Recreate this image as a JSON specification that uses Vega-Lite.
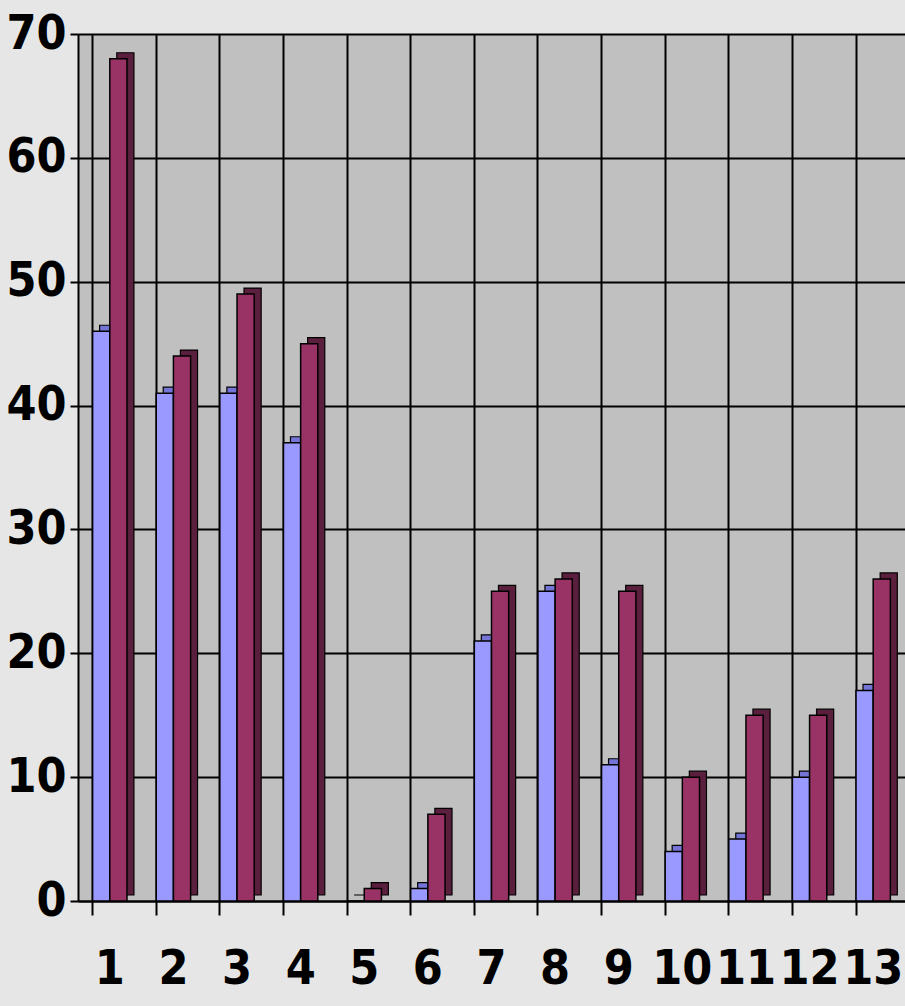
{
  "$schema": "https://vega.github.io/schema/vega-lite/v6.json",
  "width": 827,
  "height": 867,
  "autosize": {"type": "none"},
  "padding": {"left": 78, "top": 34, "right": 0, "bottom": 105},
  "background": "#e6e6e6",
  "config": {
    "view": {"fill": "#c0c0c0", "stroke": null},
    "font": "DejaVu Sans Condensed"
  },
  "data": {
    "values": [
      {"cat": "1", "series": "Série 1", "value": 46}, {"cat": "1", "series": "Série 2", "value": 68},
      {"cat": "2", "series": "Série 1", "value": 41}, {"cat": "2", "series": "Série 2", "value": 44},
      {"cat": "3", "series": "Série 1", "value": 41}, {"cat": "3", "series": "Série 2", "value": 49},
      {"cat": "4", "series": "Série 1", "value": 37}, {"cat": "4", "series": "Série 2", "value": 45},
      {"cat": "5", "series": "Série 1", "value": 0}, {"cat": "5", "series": "Série 2", "value": 1},
      {"cat": "6", "series": "Série 1", "value": 1}, {"cat": "6", "series": "Série 2", "value": 7},
      {"cat": "7", "series": "Série 1", "value": 21}, {"cat": "7", "series": "Série 2", "value": 25},
      {"cat": "8", "series": "Série 1", "value": 25}, {"cat": "8", "series": "Série 2", "value": 26},
      {"cat": "9", "series": "Série 1", "value": 11}, {"cat": "9", "series": "Série 2", "value": 25},
      {"cat": "10", "series": "Série 1", "value": 4}, {"cat": "10", "series": "Série 2", "value": 10},
      {"cat": "11", "series": "Série 1", "value": 5}, {"cat": "11", "series": "Série 2", "value": 15},
      {"cat": "12", "series": "Série 1", "value": 10}, {"cat": "12", "series": "Série 2", "value": 15},
      {"cat": "13", "series": "Série 1", "value": 17}, {"cat": "13", "series": "Série 2", "value": 26}
    ]
  },
  "encoding": {
    "x": {
      "field": "cat", "type": "ordinal", "sort": null,
      "scale": {"paddingInner": 0.46, "paddingOuter": 0.23},
      "axis": {
        "title": null, "labelAngle": 0, "labelFontSize": 48, "labelFontWeight": "bold",
        "labelColor": "black", "labelPadding": 30, "tickSize": 14, "tickColor": "black",
        "tickWidth": 2, "bandPosition": 0, "grid": true, "gridColor": "black", "gridWidth": 2,
        "gridOpacity": 1, "domainColor": "black", "domainWidth": 2
      }
    },
    "y": {
      "field": "value", "type": "quantitative",
      "scale": {"domain": [0, 70], "nice": false},
      "axis": {
        "title": null, "values": [0, 10, 20, 30, 40, 50, 60, 70], "labelFontSize": 48,
        "labelFontWeight": "bold", "labelColor": "black", "labelPadding": 4, "tickSize": 8,
        "tickColor": "black", "tickWidth": 2, "grid": true, "gridColor": "black", "gridWidth": 2,
        "gridOpacity": 1, "domainColor": "black", "domainWidth": 2
      }
    }
  },
  "layer": [
    {
      "mark": {"type": "bar", "yOffset": -6, "stroke": "black", "strokeWidth": 1.2},
      "encoding": {
        "xOffset": {"field": "series", "sort": ["Série 1", "Série 2"], "scale": {"range": [7, 41.3]}},
        "color": {
          "field": "series", "legend": null,
          "scale": {"domain": ["Série 1", "Série 2"], "range": ["#7474d6", "#5a1f3d"]}
        }
      }
    },
    {
      "mark": {"type": "bar", "stroke": "black", "strokeWidth": 1.5},
      "encoding": {
        "xOffset": {"field": "series", "sort": ["Série 1", "Série 2"]},
        "color": {
          "field": "series", "legend": null,
          "scale": {"domain": ["Série 1", "Série 2"], "range": ["#9999ff", "#993366"]}
        }
      }
    }
  ],
  "resolve": {"scale": {"color": "independent", "xOffset": "independent"}}
}
